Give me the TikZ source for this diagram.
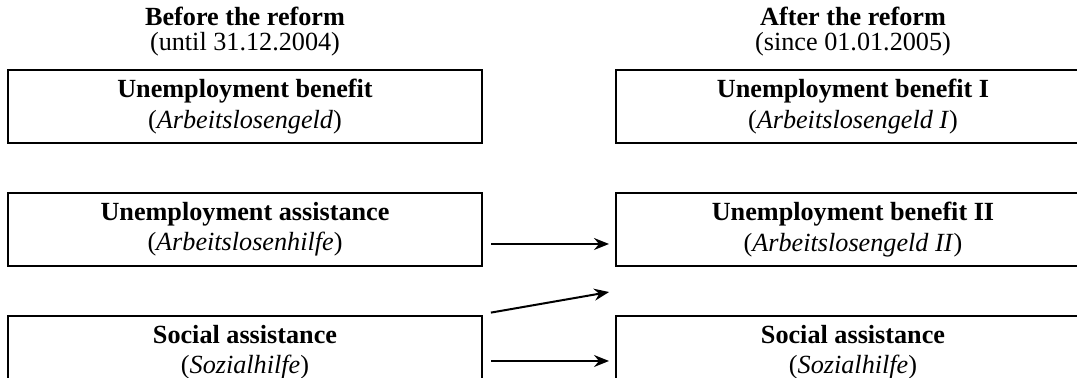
\documentclass[tikz,border=0pt]{standalone}
\usepackage{fontspec}
\setmainfont{Liberation Serif}
\usetikzlibrary{positioning,arrows.meta,calc}

\begin{document}
\begin{tikzpicture}[x=0.5pt,y=-0.5pt,node distance=24pt and 66pt,
                    line width=1pt,>={Stealth[length=7.5pt,width=6pt,inset=2.5pt]}]
  \tikzstyle{every node}=[font=\fontsize{13.1pt}{15.2pt}\selectfont,align=center,inner sep=0pt]
  \tikzstyle{box}=[draw,minimum width=237pt,minimum height=36.5pt]
  \tikzstyle{head}=[font=\fontsize{13.1pt}{12.5pt}\selectfont]

  \useasboundingbox (0,0) rectangle (1077,378);

	\node[box]	(0) at (245,106.5) {\textbf{Unemployment benefit}\\(\textit{Arbeitslosengeld})};
	\node[box]	(1) [below=of 0]  {\textbf{Unemployment assistance}\\(\textit{Arbeitslosenhilfe})};
	\node[box]	(2) [below=of 1]  {\textbf{Social assistance}\\(\textit{Sozialhilfe})};
	\node[box]	(3) [right=of 0]  {\textbf{Unemployment benefit I}\\(\textit{Arbeitslosengeld I})};
	\node[box]	(4) [right=of 1]  {\textbf{Unemployment benefit II}\\(\textit{Arbeitslosengeld II})};
	\node[box]	(5) [right=of 2]  {\textbf{Social assistance}\\(\textit{Sozialhilfe})};
	\node[head]	(6) [above=6pt of 0]  {\textbf{Before the reform}\\(until 31.12.2004)};
	\node[head]	(7) [above=6pt of 3]  {\textbf{After the reform}\\(since 01.01.2005)};
	\coordinate (8) at ($(4.south west)!0.5!(5.north west)$);

	\path[->,shorten <=4pt,shorten >=3pt]
		([yshift=-7.25pt]1.east) edge ([yshift=-7.25pt]4.west)
		([yshift=-4.25pt]2.east) edge ([yshift=-4.25pt]5.west)
		([yshift=0.5pt]2.north east) edge (8);

\end{tikzpicture}
\end{document}
